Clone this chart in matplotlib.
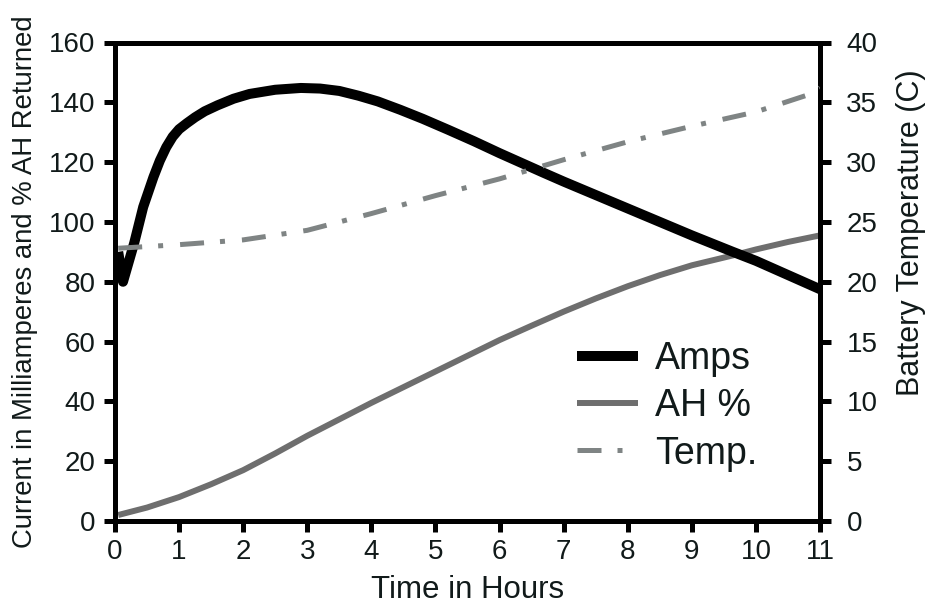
import matplotlib
matplotlib.use("Agg")
import matplotlib.pyplot as plt

plt.rcParams['font.family'] = ['Liberation Sans', 'DejaVu Sans']

# ---- data ----
amps_t = [0.05, 0.125, 0.3, 0.44, 0.6, 0.7, 0.8, 0.9, 1.0, 1.12, 1.25, 1.4, 1.6,
          1.85, 2.1, 2.5, 2.9, 3.2, 3.5, 3.8, 4.1, 4.45, 4.8, 5.2, 5.6, 6.0,
          6.68, 7.0, 8.0, 9.0, 9.64, 10.0, 11.0]
amps = [90, 80, 93, 105, 115, 120.5, 125, 128.5, 131, 133, 135, 137, 139,
        141.2, 142.8, 144.2, 144.8, 144.6, 143.8, 142.2, 140.3, 137.5, 134.5, 130.8, 127, 123,
        116.5, 113.5, 104.5, 95.5, 90, 87, 77.5]

ah_t = [0.05, 0.5, 1, 1.5, 2, 2.5, 3, 3.5, 4, 5, 6, 6.5, 7, 7.5, 8, 8.5, 9, 9.64, 10, 10.5, 11]
ah = [2, 4.5, 8, 12.3, 17, 22.6, 28.5, 34, 39.5, 50, 60.5, 65.3, 70, 74.4, 78.5, 82.2, 85.5,
      88.8, 90.8, 93.3, 95.5]

temp_t = [0.05, 1, 2, 3, 4, 5, 6, 7, 8, 9, 10, 10.8, 11]
temp = [22.8, 23.1, 23.5, 24.3, 25.7, 27.2, 28.6, 30.2, 31.7, 33.0, 34.2, 35.6, 36.2]

x_ticks = list(range(0, 12))
left_ticks = list(range(0, 161, 20))
right_ticks = list(range(0, 41, 5))

labels = ["Amps", "AH %", "Temp."]

# ---- figure ----
W, H = 925, 609
fig = plt.figure(figsize=(W / 100, H / 100), dpi=100)
ax = fig.add_axes([115 / W, 1 - 521 / H, (820 - 115) / W, (521 - 42.5) / H])
ax2 = ax.twinx()

text_color = '#111a1a'
lw_sp = 3.6

l_amps, = ax.plot(amps_t, amps, color='black', lw=7.2, solid_capstyle='butt',
                  solid_joinstyle='round', zorder=4)
l_ah, = ax.plot(ah_t, ah, color='#6e6e6e', lw=4.3, solid_capstyle='butt',
                solid_joinstyle='round', zorder=3)
l_temp, = ax2.plot(temp_t, temp, color='#7f8484', lw=3.6,
                   dashes=(4.8, 3.2, 1.0, 3.4), dash_capstyle='butt', zorder=3)

ax.set_xlim(0, 11)
ax.set_ylim(0, 160)
ax2.set_ylim(0, 40)
ax.set_xticks(x_ticks)
ax.set_yticks(left_ticks)
ax2.set_yticks(right_ticks)

for a in (ax, ax2):
    for s in a.spines.values():
        s.set_linewidth(lw_sp)
        s.set_color('black')

ax.tick_params(axis='both', direction='out', length=8, width=lw_sp,
               labelsize=20, labelcolor=text_color, color='black')
ax.tick_params(axis='y', pad=6)
ax.tick_params(axis='x', pad=5)
ax2.tick_params(axis='y', direction='out', length=8, width=lw_sp,
                labelsize=20, labelcolor=text_color, color='black', pad=11)

ax.set_xlabel("Time in Hours", fontsize=22.5, color=text_color, labelpad=7)
ax.set_ylabel("Current in Milliamperes and % AH Returned", fontsize=19.8,
              color=text_color, labelpad=8)
ax2.set_ylabel("Battery Temperature (C)", fontsize=22, color=text_color)
ax2.yaxis.set_label_coords((911 - 115) / (820 - 115), (521 - 233) / (521 - 42.5))
ax2.yaxis.label.set_verticalalignment('center')

ax2.legend([l_amps, l_ah, l_temp], labels, loc='upper left',
           bbox_to_anchor=(577 / W, 1 - 341 / H), bbox_transform=fig.transFigure,
           frameon=False, fontsize=27, handlelength=1.63, handletextpad=0.45,
           labelspacing=0.3, borderpad=0, borderaxespad=0, labelcolor=text_color)

fig.savefig("out.png", dpi=100)
